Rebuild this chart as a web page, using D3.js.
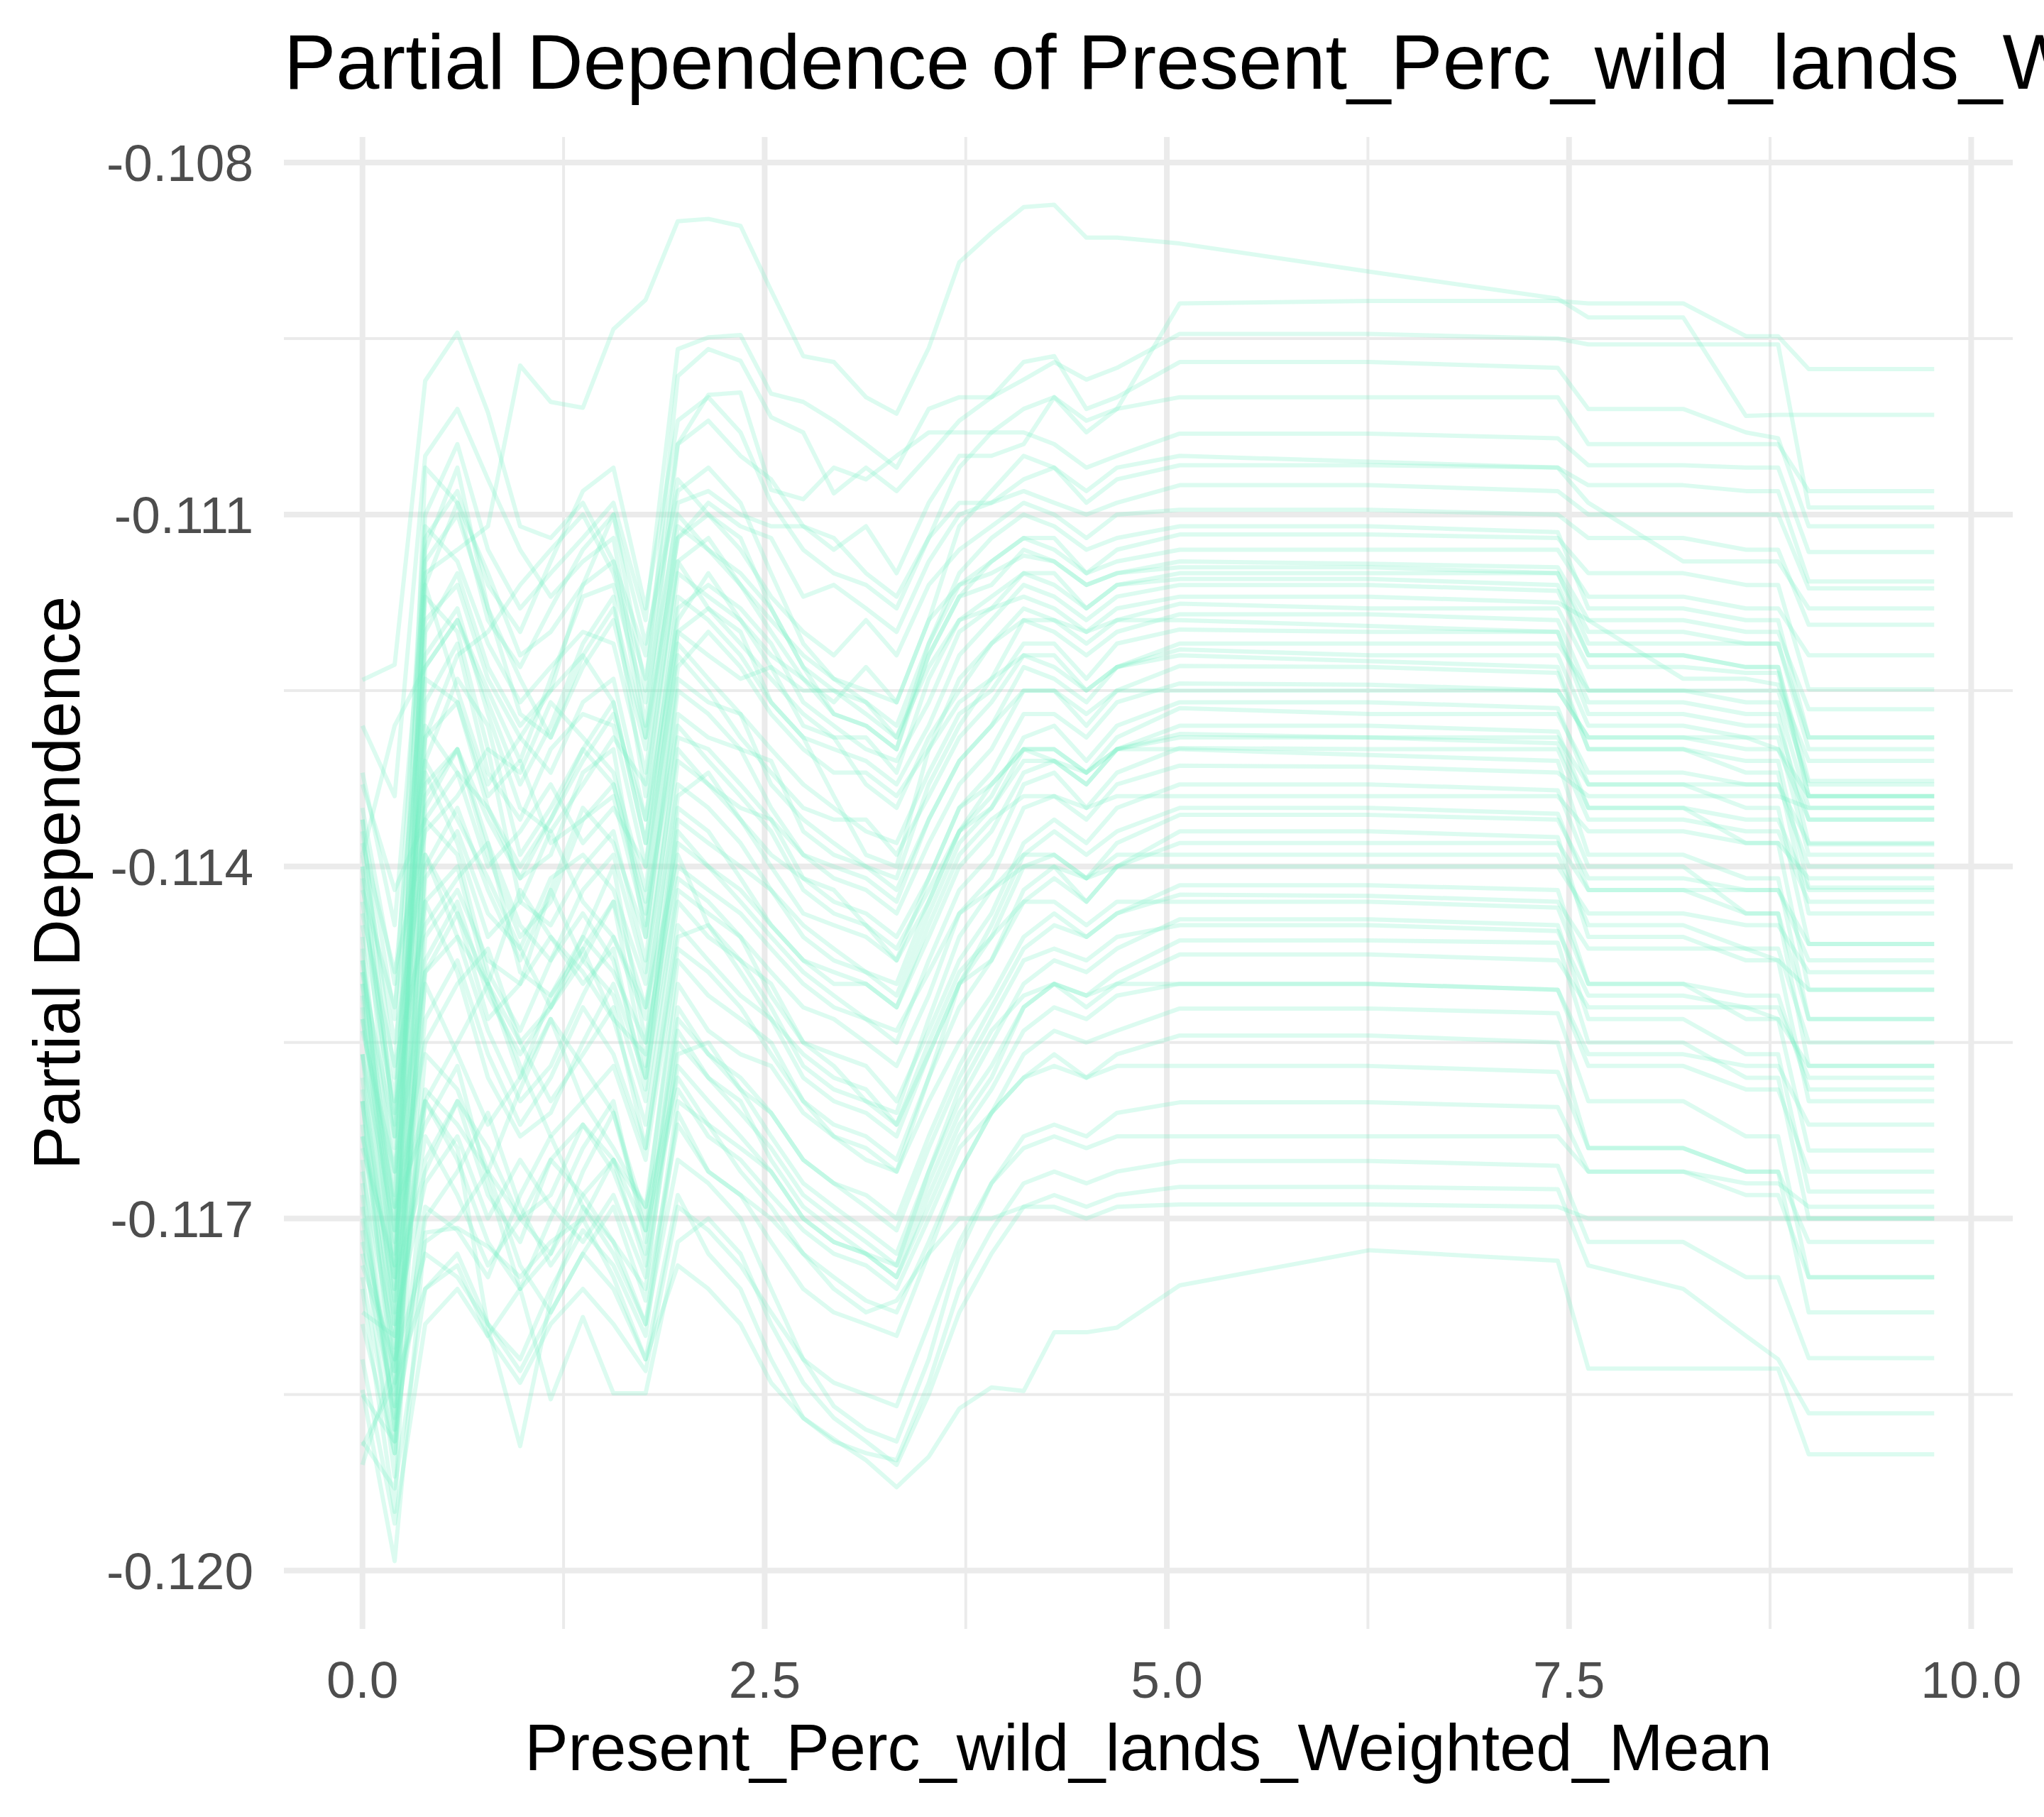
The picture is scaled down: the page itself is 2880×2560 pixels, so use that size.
<!DOCTYPE html>
<html lang="en">
<head>
  <meta charset="UTF-8">
  <title>Partial Dependence</title>
  <style>
    body { margin: 0; background: #ffffff; }
  </style>
</head>
<body>

  <script src="https://d3js.org/d3.v7.min.js"></script>

  <script>
    // feature values where the ICE curves were evaluated
    const pdGrid = [0, 0.2, 0.39, 0.59, 0.78, 0.98, 1.17, 1.37, 1.56, 1.76, 1.96, 2.15, 2.35, 2.54, 2.74, 2.93, 3.13, 3.32,
      3.52, 3.71, 3.91, 4.11, 4.3, 4.5, 4.69, 5.08, 6.26, 7.43, 7.62, 8.21, 8.6, 8.8, 8.99, 9.77];

    // one row per observation (partial dependence at each grid value)
    const iceCurves = [
      [-0.1132, -0.1145, -0.1115, -0.1113, -0.1111, -0.10973, -0.11004, -0.11009, -0.10942, -0.10917, -0.1085, -0.10848, -0.10854, -0.10909, -0.10965, -0.1097, -0.11, -0.11014, -0.10958, -0.10885, -0.1086, -0.10838, -0.10836, -0.10864, -0.10864, -0.10869, -0.10893, -0.10916, -0.10932, -0.10932, -0.11016, -0.11015, -0.11015, -0.11015],
      [-0.11241, -0.11228, -0.10986, -0.10945, -0.11013, -0.1111, -0.1112, -0.1109, -0.1114, -0.1122, -0.1104, -0.1102, -0.1105, -0.1107, -0.1111, -0.1113, -0.1111, -0.1115, -0.1109, -0.1105, -0.1105, -0.1104, -0.11, -0.1103, -0.1101, -0.1092, -0.10918, -0.10918, -0.1092, -0.1092, -0.10948, -0.10948, -0.10976, -0.10976],
      [-0.1136, -0.1153, -0.111, -0.1104, -0.1113, -0.1118, -0.1115, -0.1112, -0.1109, -0.1119, -0.10959, -0.10949, -0.10947, -0.10997, -0.11004, -0.1102, -0.1104, -0.1106, -0.1101, -0.11, -0.11, -0.10985, -0.1097, -0.10985, -0.10975, -0.10946, -0.10946, -0.1095, -0.10955, -0.10955, -0.10955, -0.10955, -0.11094, -0.11094],
      [-0.114, -0.1162, -0.1116, -0.1109, -0.1115, -0.1122, -0.112, -0.1116, -0.111, -0.1125, -0.10982, -0.10959, -0.10969, -0.11017, -0.1103, -0.11082, -0.1106, -0.1108, -0.1105, -0.1102, -0.11, -0.1097, -0.10965, -0.1101, -0.11, -0.1097, -0.1097, -0.10975, -0.1101, -0.1101, -0.1103, -0.11035, -0.1111, -0.1111],
      [-0.1128, -0.1134, -0.1105, -0.1101, -0.1107, -0.1113, -0.1117, -0.1114, -0.1112, -0.1128, -0.1104, -0.10998, -0.10996, -0.11079, -0.11087, -0.1106, -0.1107, -0.1105, -0.1103, -0.1103, -0.1103, -0.1103, -0.1104, -0.1106, -0.1105, -0.11031, -0.11031, -0.11035, -0.11058, -0.11058, -0.1106, -0.1106, -0.11132, -0.11132],
      [-0.1148, -0.1173, -0.112, -0.1115, -0.1123, -0.1128, -0.1125, -0.1116, -0.1114, -0.1129, -0.1109, -0.1108, -0.111, -0.1111, -0.1111, -0.1112, -0.1115, -0.1117, -0.1112, -0.1109, -0.1109, -0.1107, -0.1106, -0.1109, -0.1107, -0.11058, -0.11058, -0.1106, -0.11075, -0.11075, -0.1108, -0.1108, -0.11157, -0.11157],
      [-0.1152, -0.1179, -0.1113, -0.1106, -0.1118, -0.1124, -0.1129, -0.1123, -0.1119, -0.113, -0.1112, -0.1109, -0.1111, -0.1112, -0.1117, -0.1116, -0.1118, -0.112, -0.1114, -0.111, -0.1109, -0.1108, -0.1109, -0.111, -0.1109, -0.11075, -0.11075, -0.1108, -0.111, -0.111, -0.111, -0.111, -0.11163, -0.11163],
      [-0.1143, -0.116, -0.1129, -0.1122, -0.112, -0.1116, -0.1113, -0.111, -0.1115, -0.1124, -0.1107, -0.111, -0.1113, -0.1117, -0.112, -0.1122, -0.1119, -0.1122, -0.1116, -0.1113, -0.1111, -0.1109, -0.111, -0.1112, -0.111, -0.11096, -0.11096, -0.111, -0.1112, -0.1112, -0.1113, -0.1113, -0.11194, -0.11194],
      [-0.1139, -0.1128, -0.1123, -0.1119, -0.1126, -0.1133, -0.1128, -0.1121, -0.1117, -0.1134, -0.1114, -0.1112, -0.1116, -0.112, -0.1124, -0.1126, -0.1123, -0.1126, -0.1119, -0.1116, -0.1114, -0.1112, -0.1112, -0.1115, -0.1113, -0.11117, -0.11117, -0.1112, -0.1115, -0.1115, -0.1116, -0.1116, -0.11249, -0.11249],
      [-0.1156, -0.1182, -0.1119, -0.1116, -0.1124, -0.1129, -0.1132, -0.1126, -0.1124, -0.1136, -0.1115, -0.1117, -0.1119, -0.1122, -0.1124, -0.1127, -0.1128, -0.113, -0.1122, -0.1117, -0.1116, -0.1113, -0.1114, -0.1116, -0.1115, -0.1114, -0.11142, -0.11145, -0.1119, -0.1119, -0.112, -0.112, -0.11266, -0.11266],
      [-0.1141, -0.1168, -0.1126, -0.1121, -0.1132, -0.1136, -0.113, -0.1127, -0.1128, -0.114, -0.1118, -0.1116, -0.1118, -0.1121, -0.1126, -0.1128, -0.113, -0.1131, -0.1126, -0.112, -0.1118, -0.1115, -0.1115, -0.1118, -0.1116, -0.1115, -0.1115, -0.1115, -0.1121, -0.1121, -0.1121, -0.1121, -0.113, -0.113],
      [-0.116, -0.1186, -0.1131, -0.1124, -0.1128, -0.1139, -0.1135, -0.113, -0.1126, -0.1138, -0.1117, -0.1119, -0.1122, -0.1126, -0.1129, -0.113, -0.1131, -0.1133, -0.1128, -0.1122, -0.1119, -0.1116, -0.1117, -0.1119, -0.1117, -0.1116, -0.1116, -0.11165, -0.1122, -0.1122, -0.1123, -0.1123, -0.11327, -0.11327],
      [-0.1146, -0.1171, -0.1117, -0.112, -0.113, -0.1132, -0.1126, -0.1129, -0.1132, -0.1142, -0.112, -0.1122, -0.1124, -0.1123, -0.1125, -0.1125, -0.1127, -0.1129, -0.1123, -0.1119, -0.1118, -0.1117, -0.1118, -0.112, -0.1118, -0.1117, -0.1117, -0.11175, -0.1119, -0.1124, -0.1124, -0.11245, -0.1131, -0.1131],
      [-0.1135, -0.115, -0.1122, -0.1118, -0.1127, -0.1135, -0.1137, -0.1133, -0.1129, -0.1133, -0.1114, -0.1118, -0.1121, -0.1124, -0.1127, -0.1129, -0.1133, -0.1135, -0.1129, -0.1125, -0.1121, -0.1118, -0.1119, -0.1121, -0.1119, -0.11176, -0.1118, -0.1118, -0.1123, -0.1123, -0.11235, -0.11235, -0.1134, -0.1134],
      [-0.1151, -0.1176, -0.1124, -0.1126, -0.1134, -0.1131, -0.1138, -0.1136, -0.1134, -0.1145, -0.1123, -0.112, -0.1123, -0.1127, -0.113, -0.1132, -0.1132, -0.1134, -0.113, -0.1126, -0.1124, -0.1119, -0.112, -0.1122, -0.112, -0.11185, -0.11185, -0.1119, -0.1125, -0.1125, -0.1126, -0.1126, -0.1135, -0.1135],
      [-0.1164, -0.1174, -0.1134, -0.113, -0.1136, -0.1141, -0.1139, -0.1132, -0.113, -0.1146, -0.1124, -0.1126, -0.1127, -0.113, -0.1133, -0.1135, -0.1137, -0.1138, -0.1132, -0.1127, -0.1125, -0.1121, -0.1121, -0.1124, -0.1121, -0.11198, -0.112, -0.112, -0.1126, -0.1126, -0.1127, -0.1127, -0.11381, -0.11381],
      [-0.1149, -0.1163, -0.1128, -0.1132, -0.114, -0.1137, -0.1133, -0.1138, -0.1135, -0.114, -0.1122, -0.1125, -0.1129, -0.1132, -0.1135, -0.1136, -0.1136, -0.1139, -0.1134, -0.1129, -0.1126, -0.1122, -0.1123, -0.1125, -0.1123, -0.1121, -0.1121, -0.1121, -0.1125, -0.1125, -0.1125, -0.1125, -0.1133, -0.1133],
      [-0.1138, -0.1149, -0.1137, -0.1134, -0.113, -0.1143, -0.1145, -0.114, -0.1137, -0.1148, -0.1127, -0.1129, -0.113, -0.1131, -0.1137, -0.1139, -0.114, -0.1142, -0.1136, -0.1131, -0.1128, -0.1123, -0.1124, -0.1126, -0.1123, -0.11215, -0.1122, -0.1122, -0.1128, -0.1128, -0.1129, -0.1129, -0.1139, -0.1139],
      [-0.1168, -0.1189, -0.1141, -0.1137, -0.1144, -0.1147, -0.1141, -0.1139, -0.1142, -0.115, -0.1129, -0.113, -0.1133, -0.1136, -0.1139, -0.1141, -0.1142, -0.1144, -0.1138, -0.1133, -0.113, -0.1125, -0.1125, -0.1128, -0.1125, -0.11229, -0.1123, -0.11235, -0.113, -0.113, -0.1131, -0.1131, -0.11418, -0.11418],
      [-0.1154, -0.1166, -0.1132, -0.1138, -0.1146, -0.1143, -0.1137, -0.1143, -0.1146, -0.1153, -0.1131, -0.1133, -0.1135, -0.1136, -0.1141, -0.1143, -0.1144, -0.1146, -0.1141, -0.1135, -0.1132, -0.1127, -0.1127, -0.1129, -0.1126, -0.11244, -0.11245, -0.1125, -0.1129, -0.1129, -0.1129, -0.113, -0.1136, -0.1136],
      [-0.1144, -0.1157, -0.1145, -0.1141, -0.1138, -0.1149, -0.1151, -0.1146, -0.114, -0.1155, -0.1134, -0.1132, -0.1136, -0.114, -0.1144, -0.1145, -0.1146, -0.1148, -0.1143, -0.1137, -0.1134, -0.1129, -0.1128, -0.1131, -0.1128, -0.1126, -0.1126, -0.11265, -0.1133, -0.1133, -0.1135, -0.1135, -0.11466, -0.11466],
      [-0.1171, -0.1192, -0.1139, -0.1146, -0.115, -0.1142, -0.1146, -0.115, -0.1147, -0.1159, -0.1136, -0.1138, -0.114, -0.1142, -0.1145, -0.1147, -0.1149, -0.1151, -0.1144, -0.1138, -0.1135, -0.113, -0.113, -0.1132, -0.1129, -0.11265, -0.1127, -0.1127, -0.1132, -0.1132, -0.1133, -0.1133, -0.114, -0.114],
      [-0.1158, -0.1178, -0.1148, -0.1143, -0.1151, -0.1156, -0.1152, -0.1147, -0.1143, -0.1157, -0.1135, -0.1137, -0.1141, -0.1145, -0.1148, -0.1149, -0.115, -0.1152, -0.1146, -0.114, -0.1137, -0.1132, -0.1131, -0.1133, -0.113, -0.1128, -0.1128, -0.11285, -0.1135, -0.1135, -0.1138, -0.1138, -0.11505, -0.11505],
      [-0.114, -0.1164, -0.1133, -0.113, -0.1138, -0.1145, -0.1148, -0.1142, -0.1139, -0.1149, -0.113, -0.1133, -0.1136, -0.1139, -0.1141, -0.1142, -0.1145, -0.1147, -0.1142, -0.1137, -0.1135, -0.1131, -0.1131, -0.1133, -0.113, -0.11287, -0.1129, -0.1129, -0.1133, -0.1133, -0.1133, -0.1133, -0.1138, -0.1138],
      [-0.1162, -0.1184, -0.1136, -0.1139, -0.1149, -0.1154, -0.1148, -0.1144, -0.1148, -0.1158, -0.1138, -0.114, -0.1143, -0.1146, -0.1149, -0.1151, -0.1153, -0.1155, -0.1148, -0.1142, -0.1139, -0.1133, -0.1132, -0.1135, -0.1132, -0.11299, -0.113, -0.113, -0.1136, -0.1136, -0.1137, -0.1137, -0.1143, -0.1143],
      [-0.1139, -0.1155, -0.1139, -0.1144, -0.1153, -0.115, -0.1142, -0.1148, -0.1151, -0.116, -0.1142, -0.1144, -0.1146, -0.1149, -0.1152, -0.1153, -0.1155, -0.1157, -0.1151, -0.1144, -0.1141, -0.1135, -0.1134, -0.1136, -0.1133, -0.11314, -0.11315, -0.1132, -0.1134, -0.1134, -0.1134, -0.1134, -0.1135, -0.1135],
      [-0.1176, -0.1195, -0.1149, -0.1146, -0.1154, -0.116, -0.1157, -0.1151, -0.1146, -0.1152, -0.1139, -0.1145, -0.1148, -0.115, -0.1155, -0.1156, -0.1157, -0.116, -0.1154, -0.1148, -0.1144, -0.1138, -0.1136, -0.1138, -0.1135, -0.1133, -0.1133, -0.11335, -0.114, -0.114, -0.1144, -0.1144, -0.1157, -0.1157],
      [-0.115, -0.117, -0.1155, -0.115, -0.1147, -0.1155, -0.116, -0.1156, -0.1152, -0.1164, -0.1146, -0.1145, -0.1149, -0.1153, -0.1156, -0.1158, -0.1159, -0.1162, -0.1155, -0.1149, -0.1146, -0.114, -0.1139, -0.1141, -0.1138, -0.11356, -0.11356, -0.1136, -0.1141, -0.1141, -0.1142, -0.1142, -0.1148, -0.1148],
      [-0.1166, -0.1181, -0.1159, -0.1162, -0.1166, -0.1159, -0.1153, -0.1157, -0.1161, -0.117, -0.1148, -0.1151, -0.1153, -0.1155, -0.116, -0.1162, -0.1163, -0.1165, -0.1158, -0.1152, -0.1148, -0.1142, -0.114, -0.1143, -0.114, -0.1137, -0.1137, -0.11375, -0.1146, -0.1146, -0.1148, -0.1148, -0.116, -0.116],
      [-0.1145, -0.1161, -0.1143, -0.1149, -0.1158, -0.1163, -0.1161, -0.1155, -0.115, -0.1158, -0.1141, -0.1143, -0.1146, -0.1151, -0.1155, -0.1157, -0.116, -0.1162, -0.1156, -0.115, -0.1148, -0.1143, -0.1141, -0.1143, -0.114, -0.1138, -0.1138, -0.1138, -0.1142, -0.1142, -0.1142, -0.1142, -0.11466, -0.11466],
      [-0.1179, -0.119, -0.1165, -0.116, -0.1168, -0.1172, -0.1165, -0.1162, -0.1166, -0.1173, -0.1152, -0.1156, -0.1158, -0.1161, -0.1165, -0.1167, -0.1168, -0.117, -0.1163, -0.1157, -0.1152, -0.1147, -0.1145, -0.1146, -0.1144, -0.11416, -0.11416, -0.1142, -0.115, -0.115, -0.1153, -0.1153, -0.11642, -0.11642],
      [-0.1156, -0.1175, -0.115, -0.1156, -0.1162, -0.1158, -0.1153, -0.116, -0.1164, -0.1169, -0.115, -0.1154, -0.1156, -0.1157, -0.1161, -0.1163, -0.1165, -0.1166, -0.116, -0.1155, -0.1151, -0.1146, -0.1144, -0.1146, -0.1144, -0.11424, -0.11425, -0.1143, -0.1147, -0.1147, -0.1147, -0.1148, -0.11505, -0.11505],
      [-0.1169, -0.1187, -0.117, -0.1166, -0.1161, -0.1169, -0.1174, -0.117, -0.1165, -0.1174, -0.1156, -0.1155, -0.1159, -0.1163, -0.1167, -0.1169, -0.1171, -0.1173, -0.1166, -0.116, -0.1155, -0.115, -0.1148, -0.1149, -0.1147, -0.11445, -0.11445, -0.1145, -0.1153, -0.1153, -0.1156, -0.1156, -0.11677, -0.11677],
      [-0.1185, -0.1189, -0.1169, -0.1171, -0.1175, -0.1168, -0.1163, -0.1169, -0.1173, -0.1179, -0.116, -0.1162, -0.1164, -0.1166, -0.117, -0.1172, -0.1173, -0.1175, -0.1168, -0.1162, -0.1158, -0.1152, -0.115, -0.1151, -0.1149, -0.11463, -0.11463, -0.11465, -0.1155, -0.1155, -0.1158, -0.1158, -0.117, -0.117],
      [-0.1153, -0.1169, -0.1162, -0.1157, -0.1167, -0.1176, -0.117, -0.1164, -0.116, -0.1172, -0.1154, -0.1158, -0.1161, -0.1164, -0.1168, -0.117, -0.1172, -0.1174, -0.1167, -0.1161, -0.1157, -0.1152, -0.115, -0.1152, -0.115, -0.11475, -0.11475, -0.1148, -0.1152, -0.1152, -0.1152, -0.1153, -0.1157, -0.1157],
      [-0.1189, -0.1193, -0.1176, -0.1173, -0.1179, -0.1182, -0.1176, -0.1171, -0.1174, -0.118, -0.1161, -0.1166, -0.1168, -0.117, -0.1173, -0.1175, -0.1177, -0.1178, -0.1172, -0.1166, -0.1161, -0.1156, -0.1154, -0.1155, -0.1154, -0.11521, -0.11521, -0.11525, -0.116, -0.116, -0.1163, -0.1163, -0.1175, -0.1175],
      [-0.1172, -0.1183, -0.116, -0.1165, -0.1172, -0.1176, -0.1173, -0.1166, -0.1161, -0.1171, -0.1159, -0.1163, -0.1165, -0.1168, -0.1171, -0.1173, -0.1174, -0.1176, -0.117, -0.1164, -0.1161, -0.1158, -0.1156, -0.1158, -0.1156, -0.11544, -0.11544, -0.1155, -0.1164, -0.1164, -0.1166, -0.1166, -0.1178, -0.1178],
      [-0.1174, -0.1182, -0.116, -0.1164, -0.11793, -0.11894, -0.11769, -0.1169, -0.1172, -0.1179, -0.1165, -0.1167, -0.117, -0.1176, -0.1182, -0.1186, -0.1188, -0.1189, -0.1182, -0.1173, -0.1167, -0.1163, -0.1162, -0.1163, -0.1161, -0.11601, -0.11601, -0.11605, -0.1166, -0.1166, -0.1168, -0.1168, -0.1175, -0.1175],
      [-0.11846, -0.11992, -0.11712, -0.11708, -0.11724, -0.1175, -0.1172, -0.117, -0.1175, -0.1182, -0.1168, -0.1173, -0.1176, -0.1182, -0.1187, -0.1189, -0.119, -0.11906, -0.1184, -0.1176, -0.1171, -0.1167, -0.1166, -0.1167, -0.1166, -0.11651, -0.11651, -0.11655, -0.1172, -0.1172, -0.1175, -0.1175, -0.11819, -0.11819],
      [-0.11894, -0.1184, -0.1176, -0.1174, -0.118, -0.1176, -0.11854, -0.11784, -0.11849, -0.11849, -0.1172, -0.117, -0.1173, -0.1179, -0.1184, -0.1187, -0.1189, -0.1191, -0.1185, -0.1178, -0.1173, -0.1169, -0.1168, -0.1169, -0.1168, -0.11673, -0.11673, -0.11675, -0.1174, -0.1176, -0.118, -0.1182, -0.11866, -0.11866],
      [-0.1191, -0.1182, -0.1173, -0.1175, -0.1179, -0.1183, -0.1178, -0.1173, -0.1176, -0.1182, -0.1174, -0.1176, -0.1179, -0.1184, -0.1187, -0.11888, -0.11906, -0.11929, -0.11903, -0.11862, -0.11844, -0.11847, -0.11797, -0.11797, -0.11793, -0.11757, -0.11727, -0.11736, -0.11828, -0.11828, -0.11828, -0.11828, -0.11901, -0.11901],
      [-0.1163, -0.1175, -0.1166, -0.116, -0.1164, -0.117, -0.1173, -0.1168, -0.1165, -0.1169, -0.1158, -0.1162, -0.1166, -0.1169, -0.1173, -0.1176, -0.1178, -0.1177, -0.1173, -0.117, -0.117, -0.1169, -0.1169, -0.117, -0.1169, -0.11688, -0.11688, -0.1169, -0.117, -0.117, -0.117, -0.117, -0.117, -0.117],
      [-0.1147, -0.1176, -0.1111, -0.1114, -0.1121, -0.1126, -0.1123, -0.112, -0.1121, -0.1132, -0.1111, -0.1113, -0.1116, -0.1119, -0.1122, -0.1124, -0.1126, -0.1128, -0.1121, -0.1116, -0.1115, -0.11135, -0.1114, -0.1116, -0.1115, -0.11145, -0.11145, -0.1115, -0.112, -0.112, -0.1121, -0.1121, -0.1129, -0.1129],
      [-0.1133, -0.1142, -0.1136, -0.1132, -0.1135, -0.114, -0.1136, -0.1131, -0.1127, -0.1136, -0.1119, -0.1115, -0.1119, -0.1123, -0.1128, -0.1129, -0.1129, -0.1132, -0.1124, -0.1119, -0.1117, -0.1115, -0.1116, -0.1118, -0.1116, -0.11155, -0.11155, -0.1116, -0.1122, -0.1122, -0.1123, -0.1123, -0.1134, -0.1134],
      [-0.1165, -0.1188, -0.1135, -0.113, -0.1139, -0.1146, -0.1143, -0.1136, -0.1133, -0.1144, -0.1128, -0.1131, -0.1134, -0.1137, -0.1142, -0.1144, -0.1145, -0.1148, -0.1141, -0.1135, -0.1133, -0.113, -0.113, -0.1132, -0.113, -0.1129, -0.1129, -0.11295, -0.1135, -0.1135, -0.1136, -0.1136, -0.1142, -0.1142],
      [-0.1159, -0.1177, -0.1153, -0.1148, -0.1156, -0.1162, -0.1158, -0.1152, -0.1156, -0.1164, -0.1145, -0.1148, -0.1151, -0.1153, -0.1158, -0.116, -0.1161, -0.1163, -0.1156, -0.115, -0.1145, -0.1139, -0.1137, -0.1139, -0.1137, -0.1135, -0.1135, -0.11355, -0.1142, -0.1142, -0.1144, -0.1144, -0.1153, -0.1153],
      [-0.1173, -0.1186, -0.1156, -0.1159, -0.1166, -0.117, -0.1168, -0.1162, -0.1165, -0.1171, -0.1153, -0.1156, -0.1159, -0.1161, -0.1165, -0.1167, -0.1169, -0.1171, -0.1164, -0.1158, -0.1153, -0.1148, -0.1147, -0.1148, -0.1146, -0.1145, -0.1145, -0.11455, -0.1151, -0.1151, -0.1152, -0.1152, -0.1158, -0.1158],
      [-0.116, -0.1179, -0.1167, -0.1163, -0.117, -0.1165, -0.1169, -0.1172, -0.1168, -0.1175, -0.1157, -0.116, -0.1163, -0.1166, -0.117, -0.1172, -0.1173, -0.1175, -0.1169, -0.1163, -0.1159, -0.1154, -0.1152, -0.1153, -0.1151, -0.115, -0.115, -0.11505, -0.1156, -0.1156, -0.1157, -0.1157, -0.1162, -0.1162],
      [-0.1137, -0.1158, -0.1112, -0.1108, -0.1116, -0.112, -0.1114, -0.1108, -0.1106, -0.1118, -0.1102, -0.11, -0.1103, -0.1109, -0.1113, -0.1115, -0.1116, -0.1118, -0.1112, -0.1106, -0.1103, -0.1101, -0.11, -0.1102, -0.1101, -0.11, -0.11, -0.11, -0.1104, -0.1104, -0.1104, -0.1104, -0.1108, -0.1108],
      [-0.1149, -0.1169, -0.1106, -0.1109, -0.1119, -0.1123, -0.1118, -0.1113, -0.111, -0.1121, -0.1108, -0.1106, -0.1109, -0.1115, -0.1121, -0.1124, -0.1125, -0.1126, -0.1119, -0.1111, -0.1108, -0.1105, -0.1106, -0.1108, -0.1106, -0.1105, -0.11055, -0.1106, -0.1109, -0.1114, -0.1114, -0.1114, -0.1118, -0.1118],
      [-0.1153, -0.1172, -0.1123, -0.1119, -0.1125, -0.1131, -0.1124, -0.1117, -0.1116, -0.1126, -0.111, -0.1113, -0.1115, -0.1118, -0.1123, -0.1125, -0.1126, -0.1129, -0.1122, -0.1117, -0.1114, -0.1112, -0.1113, -0.1115, -0.1114, -0.1113, -0.1113, -0.1113, -0.1117, -0.1117, -0.1118, -0.1118, -0.1122, -0.1122],
      [-0.1136, -0.1163, -0.1116, -0.1125, -0.1133, -0.1129, -0.1125, -0.1122, -0.1126, -0.1138, -0.112, -0.1118, -0.112, -0.1126, -0.1129, -0.1134, -0.1139, -0.114, -0.113, -0.1124, -0.1121, -0.1119, -0.1119, -0.112, -0.1119, -0.1119, -0.11195, -0.112, -0.1127, -0.1127, -0.1128, -0.1128, -0.1136, -0.1136],
      [-0.117, -0.1185, -0.1129, -0.1126, -0.1135, -0.1141, -0.1136, -0.113, -0.1133, -0.1143, -0.1121, -0.1124, -0.1127, -0.1133, -0.1136, -0.1138, -0.114, -0.1141, -0.1133, -0.1128, -0.1124, -0.1122, -0.1122, -0.1125, -0.1123, -0.1122, -0.11225, -0.1123, -0.113, -0.113, -0.1132, -0.1132, -0.1144, -0.1144],
      [-0.115, -0.1174, -0.114, -0.1135, -0.1142, -0.1148, -0.1142, -0.1135, -0.1138, -0.1146, -0.1125, -0.1127, -0.113, -0.1135, -0.1139, -0.114, -0.1141, -0.1143, -0.1136, -0.1131, -0.1128, -0.1125, -0.1125, -0.1127, -0.1125, -0.1125, -0.1125, -0.1125, -0.1129, -0.1129, -0.113, -0.113, -0.1134, -0.1134],
      [-0.1142, -0.1152, -0.1131, -0.1136, -0.1141, -0.1147, -0.1152, -0.1148, -0.1143, -0.1152, -0.1133, -0.1135, -0.1138, -0.1142, -0.1146, -0.1148, -0.1149, -0.115, -0.1143, -0.1137, -0.1133, -0.113, -0.1131, -0.1132, -0.113, -0.113, -0.11305, -0.1131, -0.1139, -0.1139, -0.1141, -0.1141, -0.1153, -0.1153],
      [-0.116, -0.1183, -0.1146, -0.1142, -0.1148, -0.115, -0.1146, -0.1149, -0.1153, -0.1156, -0.1137, -0.114, -0.1142, -0.1145, -0.1148, -0.115, -0.115, -0.1152, -0.1145, -0.1139, -0.1136, -0.1134, -0.1134, -0.1135, -0.1134, -0.1134, -0.1134, -0.1134, -0.1137, -0.1137, -0.1138, -0.1138, -0.1141, -0.1141],
      [-0.1175, -0.119, -0.1143, -0.114, -0.115, -0.1158, -0.1151, -0.1147, -0.1153, -0.1162, -0.1143, -0.1146, -0.1148, -0.1152, -0.1157, -0.1159, -0.116, -0.1161, -0.1153, -0.1146, -0.1142, -0.1139, -0.1139, -0.1141, -0.1139, -0.1139, -0.1139, -0.1139, -0.1145, -0.1145, -0.1147, -0.1147, -0.1155, -0.1155],
      [-0.1156, -0.1171, -0.116, -0.1155, -0.115, -0.1157, -0.1163, -0.116, -0.1157, -0.1165, -0.1147, -0.1149, -0.1152, -0.1156, -0.116, -0.1163, -0.1164, -0.1166, -0.1158, -0.115, -0.1146, -0.1143, -0.1143, -0.1145, -0.1143, -0.1143, -0.1143, -0.11435, -0.115, -0.115, -0.1151, -0.1151, -0.1159, -0.1159],
      [-0.1178, -0.118, -0.1163, -0.1168, -0.1174, -0.117, -0.1165, -0.1168, -0.1172, -0.1176, -0.1155, -0.1158, -0.116, -0.1165, -0.1169, -0.1171, -0.1173, -0.1174, -0.1166, -0.1159, -0.1154, -0.1151, -0.115, -0.1151, -0.115, -0.115, -0.115, -0.11505, -0.1157, -0.1157, -0.1159, -0.1159, -0.1166, -0.1166],
      [-0.1167, -0.1188, -0.1172, -0.117, -0.1166, -0.1174, -0.1178, -0.1173, -0.1169, -0.1177, -0.1162, -0.1166, -0.1168, -0.1172, -0.1176, -0.1178, -0.1179, -0.118, -0.1173, -0.1166, -0.1161, -0.1158, -0.1157, -0.1158, -0.1157, -0.1157, -0.1157, -0.11575, -0.1164, -0.1164, -0.1166, -0.1166, -0.1172, -0.1172],
      [-0.1182, -0.1196, -0.1179, -0.1176, -0.118, -0.1184, -0.1179, -0.1176, -0.1179, -0.1183, -0.1169, -0.1171, -0.1174, -0.1178, -0.1182, -0.1184, -0.1185, -0.1186, -0.1179, -0.1172, -0.1167, -0.1164, -0.1163, -0.1164, -0.1163, -0.1163, -0.1163, -0.1163, -0.1166, -0.1166, -0.1167, -0.1167, -0.1169, -0.1169],
      [-0.1163, -0.118, -0.1114, -0.111, -0.1118, -0.1127, -0.1129, -0.1122, -0.1118, -0.1129, -0.1112, -0.111, -0.1112, -0.1118, -0.1123, -0.1127, -0.1128, -0.113, -0.1121, -0.1115, -0.1112, -0.111, -0.1111, -0.1113, -0.1112, -0.1111, -0.1111, -0.11115, -0.1118, -0.1118, -0.1119, -0.1119, -0.1129, -0.1129],
      [-0.1148, -0.1166, -0.1149, -0.1144, -0.115, -0.1155, -0.1152, -0.1146, -0.1149, -0.1155, -0.114, -0.1142, -0.1144, -0.1147, -0.115, -0.1152, -0.1153, -0.1154, -0.1149, -0.1144, -0.1142, -0.114, -0.114, -0.1141, -0.114, -0.114, -0.114, -0.114, -0.1144, -0.1144, -0.1145, -0.1145, -0.1149, -0.1149]
    ];

    const xTicks = [0, 2.5, 5, 7.5, 10];
    const xMinorTicks = [1.25, 3.75, 6.25, 8.75];
    const yTicks = [-0.108, -0.111, -0.114, -0.117, -0.120];
    const yMinorTicks = [-0.1095, -0.1125, -0.1155, -0.1185];

    const titleText = "Partial Dependence of Present_Perc_wild_lands_Weighted_Mean";
    const xLabel = "Present_Perc_wild_lands_Weighted_Mean";
    const yLabel = "Partial Dependence";

    let svgWidth = 2880;
    let svgHeight = 2560;

    let panelLeft = 400;
    let panelRight = 2836;
    let panelTop = 193;
    let panelBottom = 2295;

    let fontFamily = "'Liberation Sans', Arial, Helvetica, sans-serif";
    let lineColor = "#76EEC6";
    let gridColor = "#EBEBEB";

    // ggplot style 5% expansion of the data range
    let xExtent = d3.extent(pdGrid);
    let xPad = (xExtent[1] - xExtent[0]) * 0.05;
    let xScale = d3.scaleLinear()
      .domain([xExtent[0] - xPad, xExtent[1] + xPad])
      .range([panelLeft, panelRight]);

    let yExtent = d3.extent(iceCurves.flat());
    let yPad = (yExtent[1] - yExtent[0]) * 0.05;
    let yScale = d3.scaleLinear()
      .domain([yExtent[0] - yPad, yExtent[1] + yPad])
      .range([panelBottom, panelTop]);

    let plainLocale = d3.formatLocale({ decimal: ".", thousands: ",", grouping: [3], currency: ["", ""], minus: "-" });
    let xFormat = plainLocale.format(".1f");
    let yFormat = plainLocale.format(".3f");

    let svg = d3.select("body")
      .append("svg")
      .attr("width", svgWidth)
      .attr("height", svgHeight)
      .style("display", "block")
      .style("background", "#ffffff");

    svg.append("rect")
      .attr("width", svgWidth)
      .attr("height", svgHeight)
      .attr("fill", "#ffffff");

    // grid lines, minor first
    let grid = svg.append("g");

    grid.selectAll(".x-minor")
      .data(xMinorTicks)
      .join("line")
      .attr("x1", d => xScale(d))
      .attr("x2", d => xScale(d))
      .attr("y1", panelTop)
      .attr("y2", panelBottom)
      .attr("stroke", gridColor)
      .attr("stroke-width", 4);

    grid.selectAll(".y-minor")
      .data(yMinorTicks)
      .join("line")
      .attr("x1", panelLeft)
      .attr("x2", panelRight)
      .attr("y1", d => yScale(d))
      .attr("y2", d => yScale(d))
      .attr("stroke", gridColor)
      .attr("stroke-width", 4);

    grid.selectAll(".x-major")
      .data(xTicks)
      .join("line")
      .attr("x1", d => xScale(d))
      .attr("x2", d => xScale(d))
      .attr("y1", panelTop)
      .attr("y2", panelBottom)
      .attr("stroke", gridColor)
      .attr("stroke-width", 8);

    grid.selectAll(".y-major")
      .data(yTicks)
      .join("line")
      .attr("x1", panelLeft)
      .attr("x2", panelRight)
      .attr("y1", d => yScale(d))
      .attr("y2", d => yScale(d))
      .attr("stroke", gridColor)
      .attr("stroke-width", 8);

    // ICE curves
    let curve = d3.line()
      .defined(d => d[1] != null)
      .x(d => xScale(d[0]))
      .y(d => yScale(d[1]));

    svg.append("g")
      .selectAll("path")
      .data(iceCurves)
      .join("path")
      .attr("d", row => curve(pdGrid.map((x, i) => [x, row[i]])))
      .attr("fill", "none")
      .attr("stroke", lineColor)
      .attr("stroke-opacity", 0.26)
      .attr("stroke-width", 6)
      .attr("stroke-linejoin", "round");

    // tick labels
    svg.append("g")
      .selectAll("text")
      .data(xTicks)
      .join("text")
      .attr("x", d => xScale(d))
      .attr("y", 2392)
      .attr("text-anchor", "middle")
      .attr("font-family", fontFamily)
      .attr("font-size", 73)
      .attr("fill", "#4D4D4D")
      .text(d => xFormat(d));

    svg.append("g")
      .selectAll("text")
      .data(yTicks)
      .join("text")
      .attr("x", 357)
      .attr("y", d => yScale(d) + 26)
      .attr("text-anchor", "end")
      .attr("font-family", fontFamily)
      .attr("font-size", 73)
      .attr("fill", "#4D4D4D")
      .text(d => yFormat(d));

    // axis titles
    svg.append("text")
      .attr("x", (panelLeft + panelRight) / 2)
      .attr("y", 2494)
      .attr("text-anchor", "middle")
      .attr("font-family", fontFamily)
      .attr("font-size", 92)
      .attr("fill", "#000000")
      .text(xLabel);

    svg.append("text")
      .attr("transform", "translate(112," + ((panelTop + panelBottom) / 2) + ") rotate(-90)")
      .attr("text-anchor", "middle")
      .attr("font-family", fontFamily)
      .attr("font-size", 92)
      .attr("fill", "#000000")
      .text(yLabel);

    // title, runs off the right edge like the original
    svg.append("text")
      .attr("x", panelLeft)
      .attr("y", 125)
      .attr("font-family", fontFamily)
      .attr("font-size", 110)
      .attr("fill", "#000000")
      .text(titleText);
  </script>
</body>
</html>
